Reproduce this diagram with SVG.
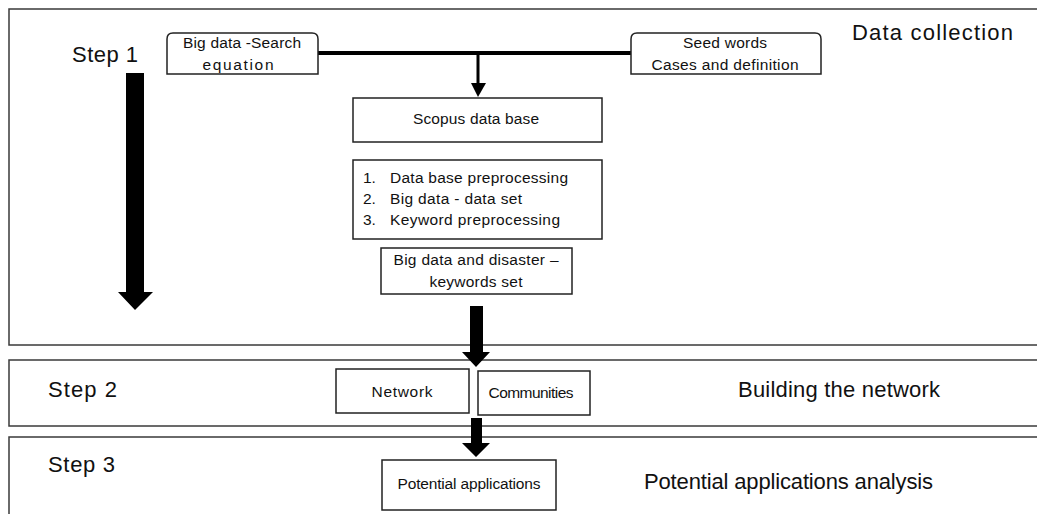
<svg xmlns="http://www.w3.org/2000/svg" width="1037" height="514" viewBox="0 0 1037 514">
<style>
.panel{fill:none;stroke:#3a3a3a;stroke-width:1.5}
.box{fill:#fff;stroke:#222;stroke-width:1.5}
.t{font-family:"Liberation Sans",Arial,sans-serif;fill:#111}
.s{font-size:15.5px}
.b{font-size:22px}
.c{text-anchor:middle}
.arr{fill:#000}
</style>
<rect width="1037" height="514" fill="#fff"/>
<g id="panel1"><rect class="panel" x="9" y="9" width="1040" height="336"/>
<text class="t b" x="72" y="62" textLength="66">Step 1</text>
<text class="t b" x="852" y="40" textLength="161">Data collection</text></g>
<g id="panel2"><rect class="panel" x="9" y="360" width="1040" height="66"/>
<text class="t b" x="48" y="397" textLength="69">Step 2</text>
<text class="t b" x="738" y="397" textLength="202">Building the network</text></g>
<g id="panel3"><rect class="panel" x="9" y="437" width="1040" height="90"/>
<text class="t b" x="48" y="472" textLength="67">Step 3</text>
<text class="t b" x="644" y="489" textLength="289">Potential applications analysis</text></g>
<g id="connectors">
<rect x="318" y="51" width="313" height="4" class="arr"/>
<rect x="476.5" y="53" width="3" height="32" class="arr"/>
<polygon class="arr" points="471,83 486,83 478,97"/>
<polygon class="arr" points="126,73 144,73 144,292 153,292 135,310 118,292 126,292"/>
<polygon class="arr" points="470,306 483,306 483,352 490,352 476,367 462,352 470,352"/>
<polygon class="arr" points="471,418 482,418 482,443 490,443 476,457 462,443 471,443"/>
</g>
<g id="search"><path class="box" d="M167,74 V39 Q167,33 173,33 H312 Q318,33 318,39 V74 Z"/>
<text class="t s c" x="242" y="48" textLength="118">Big data -Search</text>
<text class="t s c" x="238" y="70" textLength="71">equation</text></g>
<g id="seed"><path class="box" d="M631,74 V39 Q631,33 637,33 H815 Q821,33 821,39 V74 Z"/>
<text class="t s c" x="725" y="48" textLength="84">Seed words</text>
<text class="t s c" x="725" y="70" textLength="147">Cases and definition</text></g>
<g id="scopus"><rect class="box" x="353" y="98" width="249" height="44"/>
<text class="t s c" x="476" y="124" textLength="126">Scopus data base</text></g>
<g id="steps"><rect class="box" x="353" y="160" width="249" height="79"/>
<text class="t s" x="363" y="183">1.</text><text class="t s" x="390" y="183" textLength="178">Data base preprocessing</text>
<text class="t s" x="363" y="204">2.</text><text class="t s" x="390" y="204" textLength="132">Big data - data set</text>
<text class="t s" x="363" y="225">3.</text><text class="t s" x="390" y="225" textLength="170">Keyword preprocessing</text></g>
<g id="keywords"><rect class="box" x="381" y="248" width="191" height="46"/>
<text class="t s c" x="476" y="265" textLength="165">Big data and disaster –</text>
<text class="t s c" x="476" y="287" textLength="93">keywords set</text></g>
<g id="network"><rect class="box" x="336" y="369" width="133" height="44"/>
<text class="t s c" x="402" y="397" textLength="61">Network</text></g>
<g id="communities"><rect class="box" x="478" y="371" width="112" height="44"/>
<text class="t s c" x="531" y="398" textLength="85">Communities</text></g>
<g id="potential"><rect class="box" x="382" y="460" width="174" height="50"/>
<text class="t s c" x="469" y="489" textLength="143">Potential applications</text></g>
</svg>
